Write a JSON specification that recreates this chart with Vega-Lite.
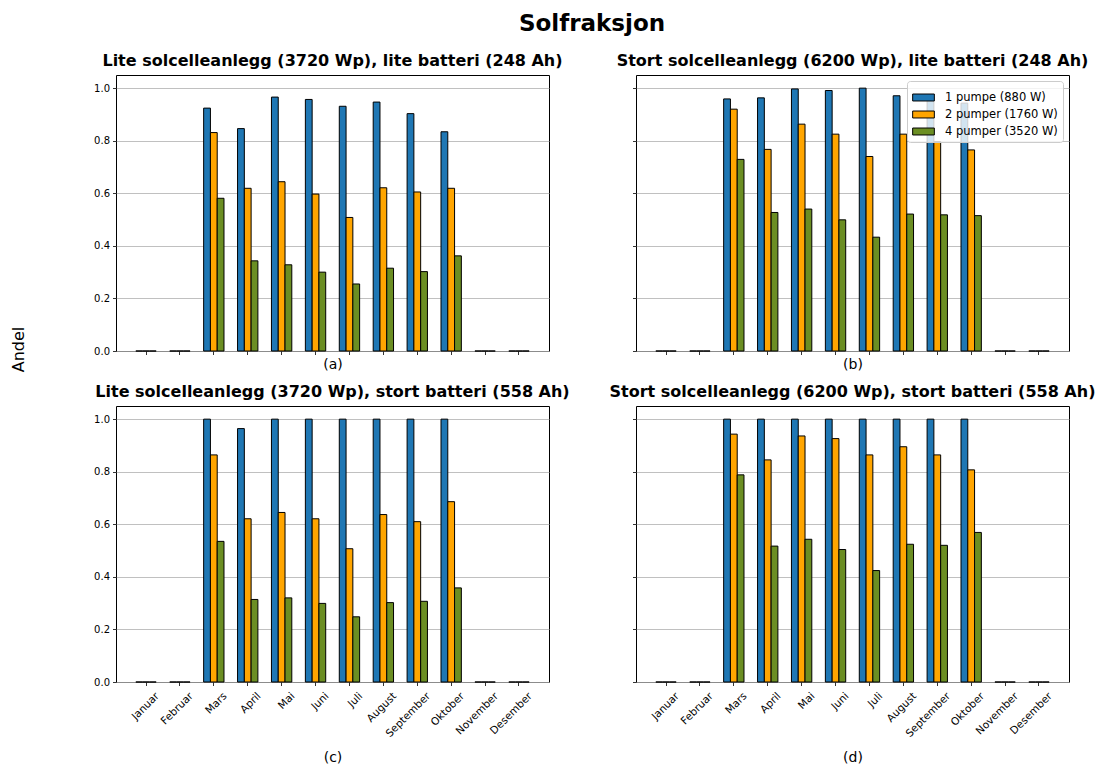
{
  "$schema": "https://vega.github.io/schema/vega-lite/v6.json",
  "padding": {"left": 9, "top": 12, "right": 5, "bottom": 5},
  "title": {"text": "Solfraksjon", "fontSize": 23, "fontWeight": "bold", "anchor": "middle", "frame": "group", "dx": 476, "offset": 17, "color": "black"},
  "data": {"values": [
    {"panel":"a","month":"Januar","series":"1 pumpe (880 W)","value":0},
    {"panel":"a","month":"Januar","series":"2 pumper (1760 W)","value":0},
    {"panel":"a","month":"Januar","series":"4 pumper (3520 W)","value":0},
    {"panel":"a","month":"Februar","series":"1 pumpe (880 W)","value":0},
    {"panel":"a","month":"Februar","series":"2 pumper (1760 W)","value":0},
    {"panel":"a","month":"Februar","series":"4 pumper (3520 W)","value":0},
    {"panel":"a","month":"Mars","series":"1 pumpe (880 W)","value":0.924},
    {"panel":"a","month":"Mars","series":"2 pumper (1760 W)","value":0.831},
    {"panel":"a","month":"Mars","series":"4 pumper (3520 W)","value":0.581},
    {"panel":"a","month":"April","series":"1 pumpe (880 W)","value":0.846},
    {"panel":"a","month":"April","series":"2 pumper (1760 W)","value":0.619},
    {"panel":"a","month":"April","series":"4 pumper (3520 W)","value":0.343},
    {"panel":"a","month":"Mai","series":"1 pumpe (880 W)","value":0.966},
    {"panel":"a","month":"Mai","series":"2 pumper (1760 W)","value":0.644},
    {"panel":"a","month":"Mai","series":"4 pumper (3520 W)","value":0.328},
    {"panel":"a","month":"Juni","series":"1 pumpe (880 W)","value":0.957},
    {"panel":"a","month":"Juni","series":"2 pumper (1760 W)","value":0.597},
    {"panel":"a","month":"Juni","series":"4 pumper (3520 W)","value":0.300},
    {"panel":"a","month":"Juli","series":"1 pumpe (880 W)","value":0.931},
    {"panel":"a","month":"Juli","series":"2 pumper (1760 W)","value":0.508},
    {"panel":"a","month":"Juli","series":"4 pumper (3520 W)","value":0.255},
    {"panel":"a","month":"August","series":"1 pumpe (880 W)","value":0.947},
    {"panel":"a","month":"August","series":"2 pumper (1760 W)","value":0.621},
    {"panel":"a","month":"August","series":"4 pumper (3520 W)","value":0.315},
    {"panel":"a","month":"September","series":"1 pumpe (880 W)","value":0.903},
    {"panel":"a","month":"September","series":"2 pumper (1760 W)","value":0.605},
    {"panel":"a","month":"September","series":"4 pumper (3520 W)","value":0.302},
    {"panel":"a","month":"Oktober","series":"1 pumpe (880 W)","value":0.834},
    {"panel":"a","month":"Oktober","series":"2 pumper (1760 W)","value":0.619},
    {"panel":"a","month":"Oktober","series":"4 pumper (3520 W)","value":0.362},
    {"panel":"a","month":"November","series":"1 pumpe (880 W)","value":0},
    {"panel":"a","month":"November","series":"2 pumper (1760 W)","value":0},
    {"panel":"a","month":"November","series":"4 pumper (3520 W)","value":0},
    {"panel":"a","month":"Desember","series":"1 pumpe (880 W)","value":0},
    {"panel":"a","month":"Desember","series":"2 pumper (1760 W)","value":0},
    {"panel":"a","month":"Desember","series":"4 pumper (3520 W)","value":0},

    {"panel":"b","month":"Januar","series":"1 pumpe (880 W)","value":0},
    {"panel":"b","month":"Januar","series":"2 pumper (1760 W)","value":0},
    {"panel":"b","month":"Januar","series":"4 pumper (3520 W)","value":0},
    {"panel":"b","month":"Februar","series":"1 pumpe (880 W)","value":0},
    {"panel":"b","month":"Februar","series":"2 pumper (1760 W)","value":0},
    {"panel":"b","month":"Februar","series":"4 pumper (3520 W)","value":0},
    {"panel":"b","month":"Mars","series":"1 pumpe (880 W)","value":0.959},
    {"panel":"b","month":"Mars","series":"2 pumper (1760 W)","value":0.920},
    {"panel":"b","month":"Mars","series":"4 pumper (3520 W)","value":0.729},
    {"panel":"b","month":"April","series":"1 pumpe (880 W)","value":0.963},
    {"panel":"b","month":"April","series":"2 pumper (1760 W)","value":0.767},
    {"panel":"b","month":"April","series":"4 pumper (3520 W)","value":0.527},
    {"panel":"b","month":"Mai","series":"1 pumpe (880 W)","value":0.997},
    {"panel":"b","month":"Mai","series":"2 pumper (1760 W)","value":0.863},
    {"panel":"b","month":"Mai","series":"4 pumper (3520 W)","value":0.540},
    {"panel":"b","month":"Juni","series":"1 pumpe (880 W)","value":0.991},
    {"panel":"b","month":"Juni","series":"2 pumper (1760 W)","value":0.825},
    {"panel":"b","month":"Juni","series":"4 pumper (3520 W)","value":0.499},
    {"panel":"b","month":"Juli","series":"1 pumpe (880 W)","value":1.0},
    {"panel":"b","month":"Juli","series":"2 pumper (1760 W)","value":0.740},
    {"panel":"b","month":"Juli","series":"4 pumper (3520 W)","value":0.433},
    {"panel":"b","month":"August","series":"1 pumpe (880 W)","value":0.971},
    {"panel":"b","month":"August","series":"2 pumper (1760 W)","value":0.825},
    {"panel":"b","month":"August","series":"4 pumper (3520 W)","value":0.521},
    {"panel":"b","month":"September","series":"1 pumpe (880 W)","value":0.966},
    {"panel":"b","month":"September","series":"2 pumper (1760 W)","value":0.797},
    {"panel":"b","month":"September","series":"4 pumper (3520 W)","value":0.518},
    {"panel":"b","month":"Oktober","series":"1 pumpe (880 W)","value":0.943},
    {"panel":"b","month":"Oktober","series":"2 pumper (1760 W)","value":0.765},
    {"panel":"b","month":"Oktober","series":"4 pumper (3520 W)","value":0.515},
    {"panel":"b","month":"November","series":"1 pumpe (880 W)","value":0},
    {"panel":"b","month":"November","series":"2 pumper (1760 W)","value":0},
    {"panel":"b","month":"November","series":"4 pumper (3520 W)","value":0},
    {"panel":"b","month":"Desember","series":"1 pumpe (880 W)","value":0},
    {"panel":"b","month":"Desember","series":"2 pumper (1760 W)","value":0},
    {"panel":"b","month":"Desember","series":"4 pumper (3520 W)","value":0},

    {"panel":"c","month":"Januar","series":"1 pumpe (880 W)","value":0},
    {"panel":"c","month":"Januar","series":"2 pumper (1760 W)","value":0},
    {"panel":"c","month":"Januar","series":"4 pumper (3520 W)","value":0},
    {"panel":"c","month":"Februar","series":"1 pumpe (880 W)","value":0},
    {"panel":"c","month":"Februar","series":"2 pumper (1760 W)","value":0},
    {"panel":"c","month":"Februar","series":"4 pumper (3520 W)","value":0},
    {"panel":"c","month":"Mars","series":"1 pumpe (880 W)","value":1.0},
    {"panel":"c","month":"Mars","series":"2 pumper (1760 W)","value":0.864},
    {"panel":"c","month":"Mars","series":"4 pumper (3520 W)","value":0.535},
    {"panel":"c","month":"April","series":"1 pumpe (880 W)","value":0.964},
    {"panel":"c","month":"April","series":"2 pumper (1760 W)","value":0.621},
    {"panel":"c","month":"April","series":"4 pumper (3520 W)","value":0.314},
    {"panel":"c","month":"Mai","series":"1 pumpe (880 W)","value":1.0},
    {"panel":"c","month":"Mai","series":"2 pumper (1760 W)","value":0.645},
    {"panel":"c","month":"Mai","series":"4 pumper (3520 W)","value":0.320},
    {"panel":"c","month":"Juni","series":"1 pumpe (880 W)","value":1.0},
    {"panel":"c","month":"Juni","series":"2 pumper (1760 W)","value":0.621},
    {"panel":"c","month":"Juni","series":"4 pumper (3520 W)","value":0.299},
    {"panel":"c","month":"Juli","series":"1 pumpe (880 W)","value":1.0},
    {"panel":"c","month":"Juli","series":"2 pumper (1760 W)","value":0.507},
    {"panel":"c","month":"Juli","series":"4 pumper (3520 W)","value":0.248},
    {"panel":"c","month":"August","series":"1 pumpe (880 W)","value":1.0},
    {"panel":"c","month":"August","series":"2 pumper (1760 W)","value":0.637},
    {"panel":"c","month":"August","series":"4 pumper (3520 W)","value":0.302},
    {"panel":"c","month":"September","series":"1 pumpe (880 W)","value":1.0},
    {"panel":"c","month":"September","series":"2 pumper (1760 W)","value":0.610},
    {"panel":"c","month":"September","series":"4 pumper (3520 W)","value":0.307},
    {"panel":"c","month":"Oktober","series":"1 pumpe (880 W)","value":1.0},
    {"panel":"c","month":"Oktober","series":"2 pumper (1760 W)","value":0.686},
    {"panel":"c","month":"Oktober","series":"4 pumper (3520 W)","value":0.358},
    {"panel":"c","month":"November","series":"1 pumpe (880 W)","value":0},
    {"panel":"c","month":"November","series":"2 pumper (1760 W)","value":0},
    {"panel":"c","month":"November","series":"4 pumper (3520 W)","value":0},
    {"panel":"c","month":"Desember","series":"1 pumpe (880 W)","value":0},
    {"panel":"c","month":"Desember","series":"2 pumper (1760 W)","value":0},
    {"panel":"c","month":"Desember","series":"4 pumper (3520 W)","value":0},

    {"panel":"d","month":"Januar","series":"1 pumpe (880 W)","value":0},
    {"panel":"d","month":"Januar","series":"2 pumper (1760 W)","value":0},
    {"panel":"d","month":"Januar","series":"4 pumper (3520 W)","value":0},
    {"panel":"d","month":"Februar","series":"1 pumpe (880 W)","value":0},
    {"panel":"d","month":"Februar","series":"2 pumper (1760 W)","value":0},
    {"panel":"d","month":"Februar","series":"4 pumper (3520 W)","value":0},
    {"panel":"d","month":"Mars","series":"1 pumpe (880 W)","value":1.0},
    {"panel":"d","month":"Mars","series":"2 pumper (1760 W)","value":0.943},
    {"panel":"d","month":"Mars","series":"4 pumper (3520 W)","value":0.788},
    {"panel":"d","month":"April","series":"1 pumpe (880 W)","value":1.0},
    {"panel":"d","month":"April","series":"2 pumper (1760 W)","value":0.845},
    {"panel":"d","month":"April","series":"4 pumper (3520 W)","value":0.517},
    {"panel":"d","month":"Mai","series":"1 pumpe (880 W)","value":1.0},
    {"panel":"d","month":"Mai","series":"2 pumper (1760 W)","value":0.936},
    {"panel":"d","month":"Mai","series":"4 pumper (3520 W)","value":0.543},
    {"panel":"d","month":"Juni","series":"1 pumpe (880 W)","value":1.0},
    {"panel":"d","month":"Juni","series":"2 pumper (1760 W)","value":0.926},
    {"panel":"d","month":"Juni","series":"4 pumper (3520 W)","value":0.504},
    {"panel":"d","month":"Juli","series":"1 pumpe (880 W)","value":1.0},
    {"panel":"d","month":"Juli","series":"2 pumper (1760 W)","value":0.864},
    {"panel":"d","month":"Juli","series":"4 pumper (3520 W)","value":0.424},
    {"panel":"d","month":"August","series":"1 pumpe (880 W)","value":1.0},
    {"panel":"d","month":"August","series":"2 pumper (1760 W)","value":0.895},
    {"panel":"d","month":"August","series":"4 pumper (3520 W)","value":0.524},
    {"panel":"d","month":"September","series":"1 pumpe (880 W)","value":1.0},
    {"panel":"d","month":"September","series":"2 pumper (1760 W)","value":0.864},
    {"panel":"d","month":"September","series":"4 pumper (3520 W)","value":0.520},
    {"panel":"d","month":"Oktober","series":"1 pumpe (880 W)","value":1.0},
    {"panel":"d","month":"Oktober","series":"2 pumper (1760 W)","value":0.807},
    {"panel":"d","month":"Oktober","series":"4 pumper (3520 W)","value":0.569},
    {"panel":"d","month":"November","series":"1 pumpe (880 W)","value":0},
    {"panel":"d","month":"November","series":"2 pumper (1760 W)","value":0},
    {"panel":"d","month":"November","series":"4 pumper (3520 W)","value":0},
    {"panel":"d","month":"Desember","series":"1 pumpe (880 W)","value":0},
    {"panel":"d","month":"Desember","series":"2 pumper (1760 W)","value":0},
    {"panel":"d","month":"Desember","series":"4 pumper (3520 W)","value":0}
  ]},
  "columns": 2,
  "spacing": {"row": 55, "column": 87},
  "bounds": "flush",
  "resolve": {"legend": {"color": "independent"}},
  "concat": [
    {
      "title": {"text": "Lite solcelleanlegg (3720 Wp), lite batteri (248 Ah)", "offset": 6},
      "width": 433, "height": 276,
      "transform": [{"filter": "datum.panel == 'a'"}],
      "mark": {"type": "bar", "stroke": "black", "strokeWidth": 1},
      "encoding": {
        "x": {"field": "month", "type": "nominal", "sort": ["Januar","Februar","Mars","April","Mai","Juni","Juli","August","September","Oktober","November","Desember"],
              "scale": {"paddingInner": 0.4, "paddingOuter": 0.585},
              "axis": {"title": "(a)", "labels": false, "titlePadding": 3}},
        "xOffset": {"field": "series", "type": "nominal"},
        "y": {"field": "value", "type": "quantitative", "scale": {"domain": [0, 1.05], "nice": false, "zero": true},
              "axis": {"values": [0, 0.2, 0.4, 0.6, 0.8, 1.0], "format": ".1f", "title": "Andel", "titleAngle": 270, "titleAlign": "center", "titleBaseline": "middle", "titleX": -98, "titleY": 274, "titleFontSize": 16}},
        "color": {"field": "series", "type": "nominal", "scale": {"domain": ["1 pumpe (880 W)","2 pumper (1760 W)","4 pumper (3520 W)"], "range": ["#1f77b4","#ffa500","#6b8e23"]}, "legend": null}
      }
    },
    {
      "title": {"text": "Stort solcelleanlegg (6200 Wp), lite batteri (248 Ah)", "offset": 6},
      "width": 433, "height": 276,
      "transform": [{"filter": "datum.panel == 'b'"}],
      "mark": {"type": "bar", "stroke": "black", "strokeWidth": 1},
      "encoding": {
        "x": {"field": "month", "type": "nominal", "sort": ["Januar","Februar","Mars","April","Mai","Juni","Juli","August","September","Oktober","November","Desember"],
              "scale": {"paddingInner": 0.4, "paddingOuter": 0.585},
              "axis": {"title": "(b)", "labels": false, "titlePadding": 3}},
        "xOffset": {"field": "series", "type": "nominal"},
        "y": {"field": "value", "type": "quantitative", "scale": {"domain": [0, 1.05], "nice": false, "zero": true},
              "axis": {"values": [0, 0.2, 0.4, 0.6, 0.8, 1.0], "labels": false, "title": null}},
        "color": {"field": "series", "type": "nominal", "scale": {"domain": ["1 pumpe (880 W)","2 pumper (1760 W)","4 pumper (3520 W)"], "range": ["#1f77b4","#ffa500","#6b8e23"]},
                  "legend": {"title": null, "orient": "top-right", "offset": 6, "fillColor": "rgba(255,255,255,0.8)", "strokeColor": "#cccccc", "cornerRadius": 3, "padding": 5, "labelFontSize": 11.5, "labelColor": "black", "rowPadding": -4, "symbolType": "M-1,-0.32L1,-0.32L1,0.32L-1,0.32Z", "symbolSize": 470, "symbolStrokeColor": "black", "symbolStrokeWidth": 1, "symbolOpacity": 1, "labelOffset": 10}}
      }
    },
    {
      "title": {"text": "Lite solcelleanlegg (3720 Wp), stort batteri (558 Ah)", "offset": 6},
      "width": 433, "height": 276,
      "transform": [{"filter": "datum.panel == 'c'"}],
      "mark": {"type": "bar", "stroke": "black", "strokeWidth": 1},
      "encoding": {
        "x": {"field": "month", "type": "nominal", "sort": ["Januar","Februar","Mars","April","Mai","Juni","Juli","August","September","Oktober","November","Desember"],
              "scale": {"paddingInner": 0.4, "paddingOuter": 0.585},
              "axis": {"title": "(c)", "labelAngle": -45, "labelAlign": "right", "labelBaseline": "top", "labelOffset": 8, "labelPadding": 5, "labelFontSize": 10.5, "titlePadding": 12}},
        "xOffset": {"field": "series", "type": "nominal"},
        "y": {"field": "value", "type": "quantitative", "scale": {"domain": [0, 1.05], "nice": false, "zero": true},
              "axis": {"values": [0, 0.2, 0.4, 0.6, 0.8, 1.0], "format": ".1f", "title": null}},
        "color": {"field": "series", "type": "nominal", "scale": {"domain": ["1 pumpe (880 W)","2 pumper (1760 W)","4 pumper (3520 W)"], "range": ["#1f77b4","#ffa500","#6b8e23"]}, "legend": null}
      }
    },
    {
      "title": {"text": "Stort solcelleanlegg (6200 Wp), stort batteri (558 Ah)", "offset": 6},
      "width": 433, "height": 276,
      "transform": [{"filter": "datum.panel == 'd'"}],
      "mark": {"type": "bar", "stroke": "black", "strokeWidth": 1},
      "encoding": {
        "x": {"field": "month", "type": "nominal", "sort": ["Januar","Februar","Mars","April","Mai","Juni","Juli","August","September","Oktober","November","Desember"],
              "scale": {"paddingInner": 0.4, "paddingOuter": 0.585},
              "axis": {"title": "(d)", "labelAngle": -45, "labelAlign": "right", "labelBaseline": "top", "labelOffset": 8, "labelPadding": 5, "labelFontSize": 10.5, "titlePadding": 12}},
        "xOffset": {"field": "series", "type": "nominal"},
        "y": {"field": "value", "type": "quantitative", "scale": {"domain": [0, 1.05], "nice": false, "zero": true},
              "axis": {"values": [0, 0.2, 0.4, 0.6, 0.8, 1.0], "labels": false, "title": null}},
        "color": {"field": "series", "type": "nominal", "scale": {"domain": ["1 pumpe (880 W)","2 pumper (1760 W)","4 pumper (3520 W)"], "range": ["#1f77b4","#ffa500","#6b8e23"]}, "legend": null}
      }
    }
  ],
  "config": {
    "font": "DejaVu Sans",
    "view": {"stroke": "black", "strokeWidth": 1},
    "axis": {"domain": false, "tickColor": "black", "tickSize": 3.5, "tickWidth": 0.8, "labelColor": "black", "labelFontSize": 10, "labelPadding": 3, "titleFontWeight": "normal", "titleFontSize": 14, "titleColor": "black", "gridColor": "#b0b0b0", "gridWidth": 0.8},
    "axisX": {"grid": false},
    "title": {"fontSize": 16, "fontWeight": "bold", "color": "black"},
    "legend": {"labelFont": "DejaVu Sans"}
  }
}
